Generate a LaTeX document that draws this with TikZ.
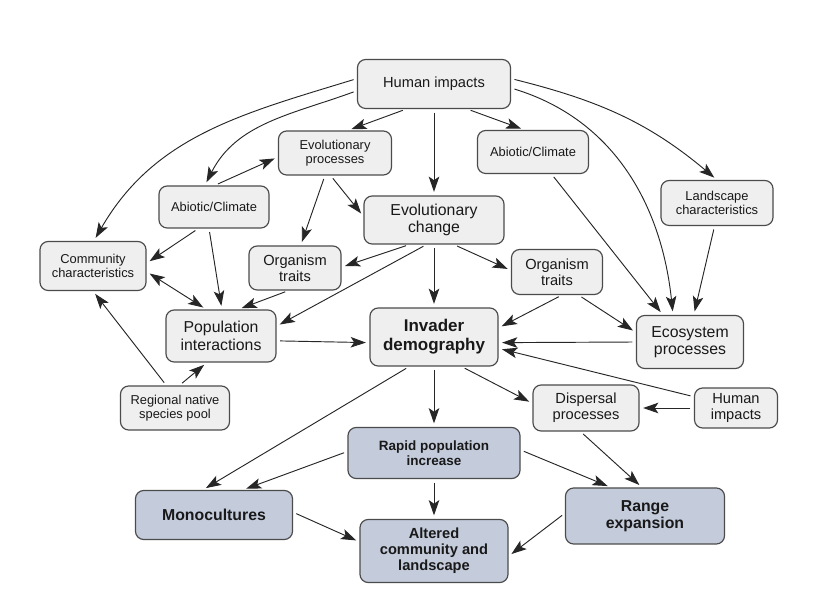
\documentclass[tikz,border=0pt]{standalone}
\usepackage{fontspec}
\setmainfont{Liberation Sans}
\usepackage{tikz}
\usetikzlibrary{arrows.meta,positioning}
\definecolor{boxgray}{RGB}{240,239,240}
\definecolor{boxblue}{RGB}{196,204,220}
\definecolor{linegray}{RGB}{75,75,75}
\tikzset{
  factor/.style={draw=linegray,line width=1pt,rounded corners=7pt,fill=boxgray,
    align=center,inner sep=1pt,text=black!90},
  outcome/.style={factor,fill=boxblue,font=\bfseries\fontsize{13.5}{14.5}\selectfont},
  txtS/.style={font=\fontsize{11}{12}\selectfont},
  txtM/.style={font=\fontsize{12.5}{13.5}\selectfont},
  txtL/.style={font=\fontsize{13.5}{15}\selectfont},
  link/.style={-{Stealth[length=13pt,width=9pt,inset=3pt]},line width=0.8pt,black!85,
    shorten <=3pt,shorten >=3pt},
}
\begin{document}
\begin{tikzpicture}[x=0.03cm,y=0.03cm]
  \useasboundingbox (0,0) rectangle (833,614);
  % factors
  \node[factor,txtM,minimum width=4.59cm,minimum height=1.47cm] (hi) at (434,530) {Human impacts};
  \node[factor,txtS,minimum width=3.39cm,minimum height=1.32cm] (evp) at (335,461) {Evolutionary\\processes};
  \node[factor,txtS,minimum width=3.33cm,minimum height=1.29cm] (abr) at (533,462) {Abiotic/Climate};
  \node[factor,txtS,minimum width=3.3cm,minimum height=1.26cm] (abl) at (214,407) {Abiotic/Climate};
  \node[factor,txtL,minimum width=4.2cm,minimum height=1.44cm] (evc) at (434,394) {Evolutionary\\change};
  \node[factor,txtS,minimum width=3.36cm,minimum height=1.35cm] (land) at (717,411) {Landscape\\characteristics};
  \node[factor,txtS,minimum width=3.18cm,minimum height=1.47cm] (comm) at (93,348) {Community\\characteristics};
  \node[factor,txtM,minimum width=2.76cm,minimum height=1.32cm] (otl) at (295,346) {Organism\\traits};
  \node[factor,txtM,minimum width=2.73cm,minimum height=1.35cm] (otr) at (557,342) {Organism\\traits};
  \node[factor,txtL,minimum width=3.3cm,minimum height=1.56cm] (popi) at (221,278) {Population\\interactions};
  \node[factor,font=\bfseries\fontsize{14.5}{16}\selectfont,minimum width=3.84cm,minimum height=1.74cm] (invd) at (434,277) {Invader\\demography};
  \node[factor,txtL,minimum width=3.21cm,minimum height=1.59cm] (eco) at (690,272) {Ecosystem\\processes};
  \node[factor,txtS,minimum width=3.27cm,minimum height=1.32cm] (pool) at (175,206) {Regional native\\species pool};
  \node[factor,txtM,minimum width=3.18cm,minimum height=1.38cm] (disp) at (586,206) {Dispersal\\processes};
  \node[factor,txtM,minimum width=2.49cm,minimum height=1.2cm] (hir) at (736,206) {Human\\impacts};
  % outcomes
  \node[outcome,font=\bfseries\fontsize{11.5}{13}\selectfont,minimum width=5.16cm,minimum height=1.53cm] (rapid) at (434,161) {Rapid population\\increase};
  \node[outcome,minimum width=4.71cm,minimum height=1.47cm] (mono) at (214,99) {Monocultures};
  \node[outcome,minimum width=4.77cm,minimum height=1.68cm] (range) at (645,98) {Range\\expansion};
  \node[outcome,font=\bfseries\fontsize{12.5}{13.5}\selectfont,minimum width=4.44cm,minimum height=1.89cm] (alt) at (434,63) {Altered\\community and\\landscape};

  % links from human impacts
  \draw[link] (hi.222) -- (evp.60);
  \draw[link] (hi) -- (evc);
  \draw[link] (hi.323) -- (abr.111);
  \draw[link] (hi.185) to[out=200,in=63] (abl.113);
  \draw[link] (hi.176) to[out=197,in=60] (comm.88);
  \draw[link] (hi.357) to[out=-17,in=96] (eco.122);
  \draw[link] (hi.4) to[out=-14,in=140] (land.north);
  % upper left
  \draw[link] (abl.88) -- (evp.184);
  \draw[link] (evp.246) -- (otl.76);
  \draw[link] (evp.259) -- (evc.177);
  \draw[link] (evc.225) -- (otl.1);
  \draw[link] (evc.253) -- (popi.10);
  \draw[link] (evc) -- (invd);
  \draw[link] (evc.309) -- (otr.178);
  \draw[link] (abl.234) -- (comm.3);
  \draw[link] (abl.257) -- (popi.88);
  \draw[link,{Stealth[length=13pt,width=9pt,inset=3pt]}-{Stealth[length=13pt,width=9pt,inset=3pt]}] (comm.354) -- (popi.119);
  \draw[link] (otl.254) -- (popi.57);
  \draw[link] (pool.111) -- (comm.south);
  \draw[link] (pool.79) -- (popi.242);
  \draw[link] (popi.355) -- (invd.185);
  % upper right
  \draw[link] (otr.282) -- (invd.8);
  \draw[link] (otr.313) -- (eco.170);
  \draw[link] (abr.310) -- (eco.135);
  \draw[link] (land.264) -- (eco.82);
  \draw[link] (eco.180) -- (invd.355);
  \draw[link] (hir.165) -- (invd.350);
  \draw[link] (hir.west) -- (disp.east);
  % lower part
  \draw[link] (invd.313) -- (disp.175);
  \draw[link] (invd) -- (rapid);
  \draw[link] (invd.230) -- (mono.114);
  \draw[link] (rapid.179) -- (mono.41);
  \draw[link] (rapid.2) -- (range.140);
  \draw[link] (disp.257) -- (range.96);
  \draw[link] (rapid) -- (alt);
  \draw[link] (mono.2) -- (alt.173);
  \draw[link] (range.178) -- (alt.356);
\end{tikzpicture}
\end{document}
